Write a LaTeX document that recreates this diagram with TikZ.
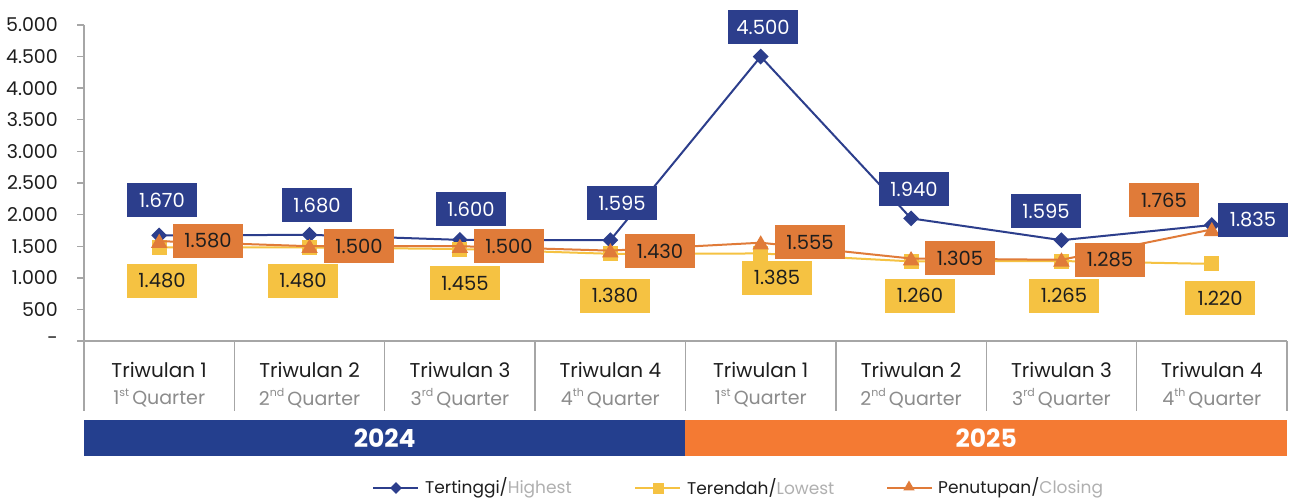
\documentclass[tikz,border=0pt]{standalone}
\usepackage{fontspec}
\setmainfont{Poppins}
\usetikzlibrary{shapes.geometric}
\definecolor{hiblue}{HTML}{2C3E8C}
\definecolor{loyel}{HTML}{F5C242}
\definecolor{clor}{HTML}{E07B39}
\definecolor{yrblue}{HTML}{243F8E}
\definecolor{yror}{HTML}{F47A33}
\definecolor{axgray}{HTML}{A6A6A6}
\definecolor{txgray}{HTML}{8C8C8C}
\definecolor{lggray}{HTML}{B0B0B0}
\definecolor{dark}{HTML}{1E1E1E}
\newcommand{\qsup}[1]{\raisebox{0.45em}{\fontsize{11}{12}\selectfont #1}}
\tikzset{
  lab/.style={minimum width=70pt,minimum height=34pt,inner sep=0pt,font=\fontsize{19.5}{21}\selectfont},
  hlab/.style={lab,fill=hiblue,text=white},
  llab/.style={lab,fill=loyel,text=dark},
  clab/.style={lab,fill=clor,text=dark},
  hline/.style={draw=hiblue,line width=2pt},
  lline/.style={draw=loyel,line width=2pt},
  cline/.style={draw=clor,line width=2pt},
  hmark/.style={diamond,fill=hiblue,minimum width=16pt,minimum height=16pt,inner sep=0pt},
  lmark/.style={rectangle,fill=loyel,minimum width=15pt,minimum height=15pt,inner sep=0pt},
  cmark/.style={regular polygon,regular polygon sides=3,fill=clor,minimum size=19pt,inner sep=0pt},
  tick/.style={anchor=east,font=\fontsize{19}{21}\selectfont,text=dark,inner sep=0pt},
  axis/.style={draw=axgray,line width=1.4pt},
  cat/.style={font=\fontsize{20}{22}\selectfont,text=dark,inner sep=0pt},
  qtr/.style={font=\fontsize{19}{21}\selectfont,text=txgray,inner sep=0pt},
  yr/.style={font=\bfseries\fontsize{25}{27}\selectfont,text=white,inner sep=0pt},
  leg/.style={anchor=west,font=\fontsize{17}{19}\selectfont,text=dark,inner sep=0pt}
}
\begin{document}
\begin{tikzpicture}[x=1pt,y=-1pt]
\useasboundingbox (0,0) rectangle (1289,500);
\fill[white] (0,0) rectangle (1289,500);
% y axis
\coordinate (ytop) at (84,25);
\coordinate (ybot) at (84,341);
\draw[axis] (ytop) -- (ybot);
\foreach \k/\t in {0/-,1/500,2/1.000,3/1.500,4/2.000,5/2.500,6/3.000,7/3.500,8/4.000,9/4.500,10/5.000}{
  \coordinate (tk\k) at (77,{341-\k*31.6});
  \coordinate (tl\k) at (84,{341-\k*31.6});
  \draw[axis] (tk\k) -- (tl\k);
  \node[tick] (yl\k) at (58,{341-\k*31.6}) {\t};
}
% x axis
\coordinate (xl) at (78,341);
\coordinate (xr) at (1287,341);
\draw[axis] (xl) -- (xr);
\foreach \k in {0,...,8}{
  \coordinate (sa\k) at ({84+\k*150.375},341);
  \coordinate (sb\k) at ({84+\k*150.375},411);
  \draw[axis] (sa\k) -- (sb\k);
}
% category labels
\foreach \i/\n/\q in {1/1/st,2/2/nd,3/3/rd,4/4/th,5/1/st,6/2/nd,7/3/rd,8/4/th}{
  \node[cat] (cat\i) at ({84+(\i-0.5)*150.375},370) {Triwulan \n};
  \node[qtr] (qt\i) at ({84+(\i-0.5)*150.375},398) {\n\qsup{\q}\,Quarter};
}
% year bars
\node[fill=yrblue,minimum width=601pt,minimum height=36pt,inner sep=0pt,anchor=north west] (y24) at (84,420) {};
\node[fill=yror,minimum width=602pt,minimum height=36pt,inner sep=0pt,anchor=north west] (y25) at (685,420) {};
\node[yr] (t24) at (y24.center) {2024};
\node[yr] (t25) at (y25.center) {2025};
% data coordinates
\foreach \i/\h/\l/\c in {1/1670/1480/1580,2/1680/1480/1500,3/1600/1455/1500,4/1595/1380/1430,5/4500/1385/1555,6/1940/1260/1305,7/1595/1265/1285,8/1835/1220/1765}{
  \coordinate (h\i) at ({84+(\i-0.5)*150.375},{341-\h*0.0632});
  \coordinate (l\i) at ({84+(\i-0.5)*150.375},{341-\l*0.0632});
  \coordinate (c\i) at ({84+(\i-0.5)*150.375},{341-\c*0.0632});
}
% highest
\draw[hline] (h1) -- (h2) -- (h3) -- (h4) -- (h5) -- (h6) -- (h7) -- (h8);
\foreach \i in {1,...,8}{\node[hmark] (hm\i) at (h\i) {};}
% lowest
\draw[lline] (l1) -- (l2) -- (l3) -- (l4) -- (l5) -- (l6) -- (l7) -- (l8);
\foreach \i in {1,...,8}{\node[lmark] (lm\i) at (l\i) {};}
% closing
\draw[cline] (c1) -- (c2) -- (c3) -- (c4) -- (c5) -- (c6) -- (c7) -- (c8);
\foreach \i in {1,...,8}{\node[cmark] (cm\i) at ([yshift=-2pt]c\i) {};}
% labels
\node[hlab] (hl1) at (162,200) {1.670};
\node[hlab] (hl2) at (317,205) {1.680};
\node[hlab] (hl3) at (471,209) {1.600};
\node[hlab] (hl4) at (622,203) {1.595};
\node[hlab] (hl5) at (763,27) {4.500};
\node[hlab] (hl6) at (914,189) {1.940};
\node[hlab] (hl7) at (1046,211) {1.595};
\node[hlab] (hl8) at (1253,220) {1.835};
\node[clab] (cl1) at (208,241) {1.580};
\node[clab] (cl2) at (359,246) {1.500};
\node[clab] (cl3) at (509,246) {1.500};
\node[clab] (cl4) at (660,251) {1.430};
\node[clab] (cl5) at (810,242) {1.555};
\node[clab] (cl6) at (960,258) {1.305};
\node[clab] (cl7) at (1110,259.5) {1.285};
\node[clab] (cl8) at (1164,200) {1.765};
\node[llab] (ll1) at (162,281) {1.480};
\node[llab] (ll2) at (303,281) {1.480};
\node[llab] (ll3) at (465,283) {1.455};
\node[llab] (ll4) at (615,295.5) {1.380};
\node[llab] (ll5) at (777,278) {1.385};
\node[llab] (ll6) at (920,295.5) {1.260};
\node[llab] (ll7) at (1064,295.5) {1.265};
\node[llab] (ll8) at (1220,298) {1.220};
% legend
\coordinate (g1a) at (373,488); \coordinate (g1b) at (418,488);
\draw[hline,line width=1.8pt] (g1a) -- (g1b);
\node[hmark,minimum width=12pt,minimum height=12pt] (gm1) at (396,488) {};
\node[leg] (gt1) at (425,488) {Tertinggi/\textcolor{lggray}{Highest}};
\coordinate (g2a) at (635,488); \coordinate (g2b) at (680,488);
\draw[lline,line width=1.8pt] (g2a) -- (g2b);
\node[lmark,minimum width=11pt,minimum height=11pt] (gm2) at (658,488) {};
\node[leg] (gt2) at (687,488) {Terendah/\textcolor{lggray}{Lowest}};
\coordinate (g3a) at (887,488); \coordinate (g3b) at (932,488);
\draw[cline,line width=1.8pt] (g3a) -- (g3b);
\node[cmark,minimum size=13pt] (gm3) at (909,487) {};
\node[leg] (gt3) at (938,488) {Penutupan/\textcolor{lggray}{Closing}};
\end{tikzpicture}
\end{document}
